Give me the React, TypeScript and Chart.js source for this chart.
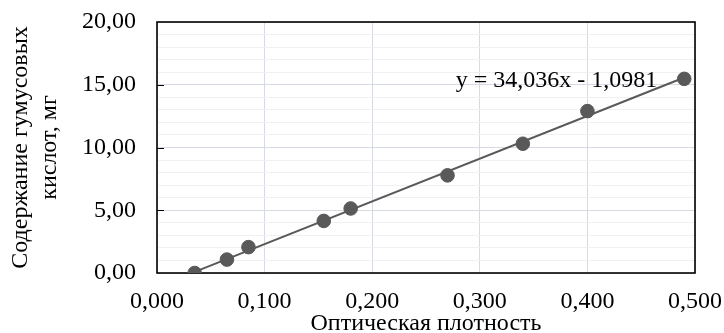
import React, { useEffect, useRef } from "react";
import { Chart, registerables } from "chart.js";

Chart.register(...registerables);

// ---- data ----
const opticalDensity = [0.035, 0.065, 0.085, 0.155, 0.18, 0.27, 0.34, 0.4, 0.49];
const humicAcid = [0, 1.07, 2.06, 4.15, 5.14, 7.78, 10.3, 12.9, 15.47];
const trendSlope = 34.036;
const trendIntercept = -1.0981;
const equationText = "y = 34,036x - 1,0981";
const equationAnchor = { x: 0.465, y: 14.86 };
const xTitle = "Оптическая плотность";
const yTitle = ["Содержание гумусовых", "кислот, мг"];
const xRange = { min: 0, max: 0.5, step: 0.1 };
const yRange = { min: 0, max: 20, major: 5, minor: 1 };

const FONT = "'Liberation Serif', 'Times New Roman', serif";
const MARK = "#595959";
const MAJOR_GRID = "#d6dbe3";
const MINOR_GRID = "#f0f0f0";

const framePlugin = {
  id: "frame",
  beforeDatasetsDraw(chart: any) {
    const { ctx, chartArea } = chart;
    const ys = chart.scales.y;
    ctx.save();
    ctx.strokeStyle = "#000";
    ctx.lineWidth = 1;
    for (let v = yRange.min + yRange.major; v < yRange.max; v += yRange.major) {
      const py = Math.round(ys.getPixelForValue(v)) + 0.5;
      ctx.beginPath();
      ctx.moveTo(chartArea.left, py);
      ctx.lineTo(chartArea.left + 7, py);
      ctx.stroke();
    }
    ctx.lineWidth = 1.6;
    ctx.strokeRect(
      chartArea.left,
      chartArea.top,
      chartArea.right - chartArea.left,
      chartArea.bottom - chartArea.top
    );
    ctx.restore();
  },
  afterDatasetsDraw(chart: any) {
    const { ctx } = chart;
    const px = chart.scales.x.getPixelForValue(equationAnchor.x);
    const py = chart.scales.y.getPixelForValue(equationAnchor.y);
    ctx.save();
    ctx.font = `24px ${FONT}`;
    ctx.fillStyle = "#000";
    ctx.textAlign = "right";
    ctx.textBaseline = "alphabetic";
    ctx.fillText(equationText, px, py);
    ctx.restore();
  },
};

const fmt = (v: number, d: number) => Number(v).toFixed(d).replace(".", ",");

const zeroPad = (scale: any) => {
  scale.paddingTop = 0;
  scale.paddingBottom = 0;
  scale.paddingLeft = 0;
  scale.paddingRight = 0;
};

export default function App() {
  const ref = useRef<HTMLCanvasElement | null>(null);

  useEffect(() => {
    if (!ref.current) return;
    const xMin = Math.min(...opticalDensity);
    const xMax = Math.max(...opticalDensity);
    const trend = [xMin, xMax].map((x) => ({ x, y: trendSlope * x + trendIntercept }));
    const points = opticalDensity.map((x, i) => ({ x, y: humicAcid[i] }));

    const chart = new Chart(ref.current, {
      type: "scatter",
      data: {
        datasets: [
          {
            type: "line",
            data: trend,
            borderColor: MARK,
            borderWidth: 2,
            pointRadius: 0,
            fill: false,
          } as any,
          {
            data: points,
            backgroundColor: MARK,
            borderColor: MARK,
            borderWidth: 1,
            pointRadius: 6.8,
            showLine: false,
          },
        ],
      },
      options: {
        animation: false,
        responsive: true,
        maintainAspectRatio: false,
        layout: { padding: { top: 22, right: 29, left: 0, bottom: 0 } },
        plugins: { legend: { display: false }, tooltip: { enabled: false } },
        scales: {
          x: {
            type: "linear",
            min: xRange.min,
            max: xRange.max,
            afterFit(scale: any) {
              scale.height = 60;
              zeroPad(scale);
            },
            ticks: {
              stepSize: xRange.step,
              color: "#000",
              padding: 14,
              font: { family: FONT, size: 24, lineHeight: 1.2 },
              callback: (v: any) => fmt(v, 3),
            },
            grid: { color: MAJOR_GRID, lineWidth: 1, drawTicks: false },
            border: { display: false },
            title: {
              display: true,
              text: xTitle,
              color: "#000",
              font: { family: FONT, size: 24, lineHeight: 0.8 },
              padding: 0,
            },
          },
          y: {
            type: "linear",
            min: yRange.min,
            max: yRange.max,
            afterFit(scale: any) {
              scale.width = 157;
              zeroPad(scale);
            },
            ticks: {
              stepSize: yRange.minor,
              autoSkip: false,
              color: "#000",
              padding: 21,
              font: { family: FONT, size: 24, lineHeight: 1.2 },
              callback: (v: any) => (Math.abs(v % yRange.major) < 1e-9 ? fmt(v, 2) : ""),
            },
            grid: {
              color: (c: any) =>
                Math.abs((c.tick?.value ?? 0) % yRange.major) < 1e-9 ? MAJOR_GRID : MINOR_GRID,
              lineWidth: 1,
              drawTicks: false,
            },
            border: { display: false },
            title: {
              display: true,
              text: yTitle,
              color: "#000",
              font: { family: FONT, size: 24, lineHeight: 1.23 },
              padding: { top: 5.5, bottom: 0 },
            },
          },
        },
      },
      plugins: [framePlugin],
    });
    return () => chart.destroy();
  }, []);

  return (
    <div style={{ position: "fixed", left: 0, top: 0, width: 724, height: 333, background: "#fff" }}>
      <canvas ref={ref} />
    </div>
  );
}
